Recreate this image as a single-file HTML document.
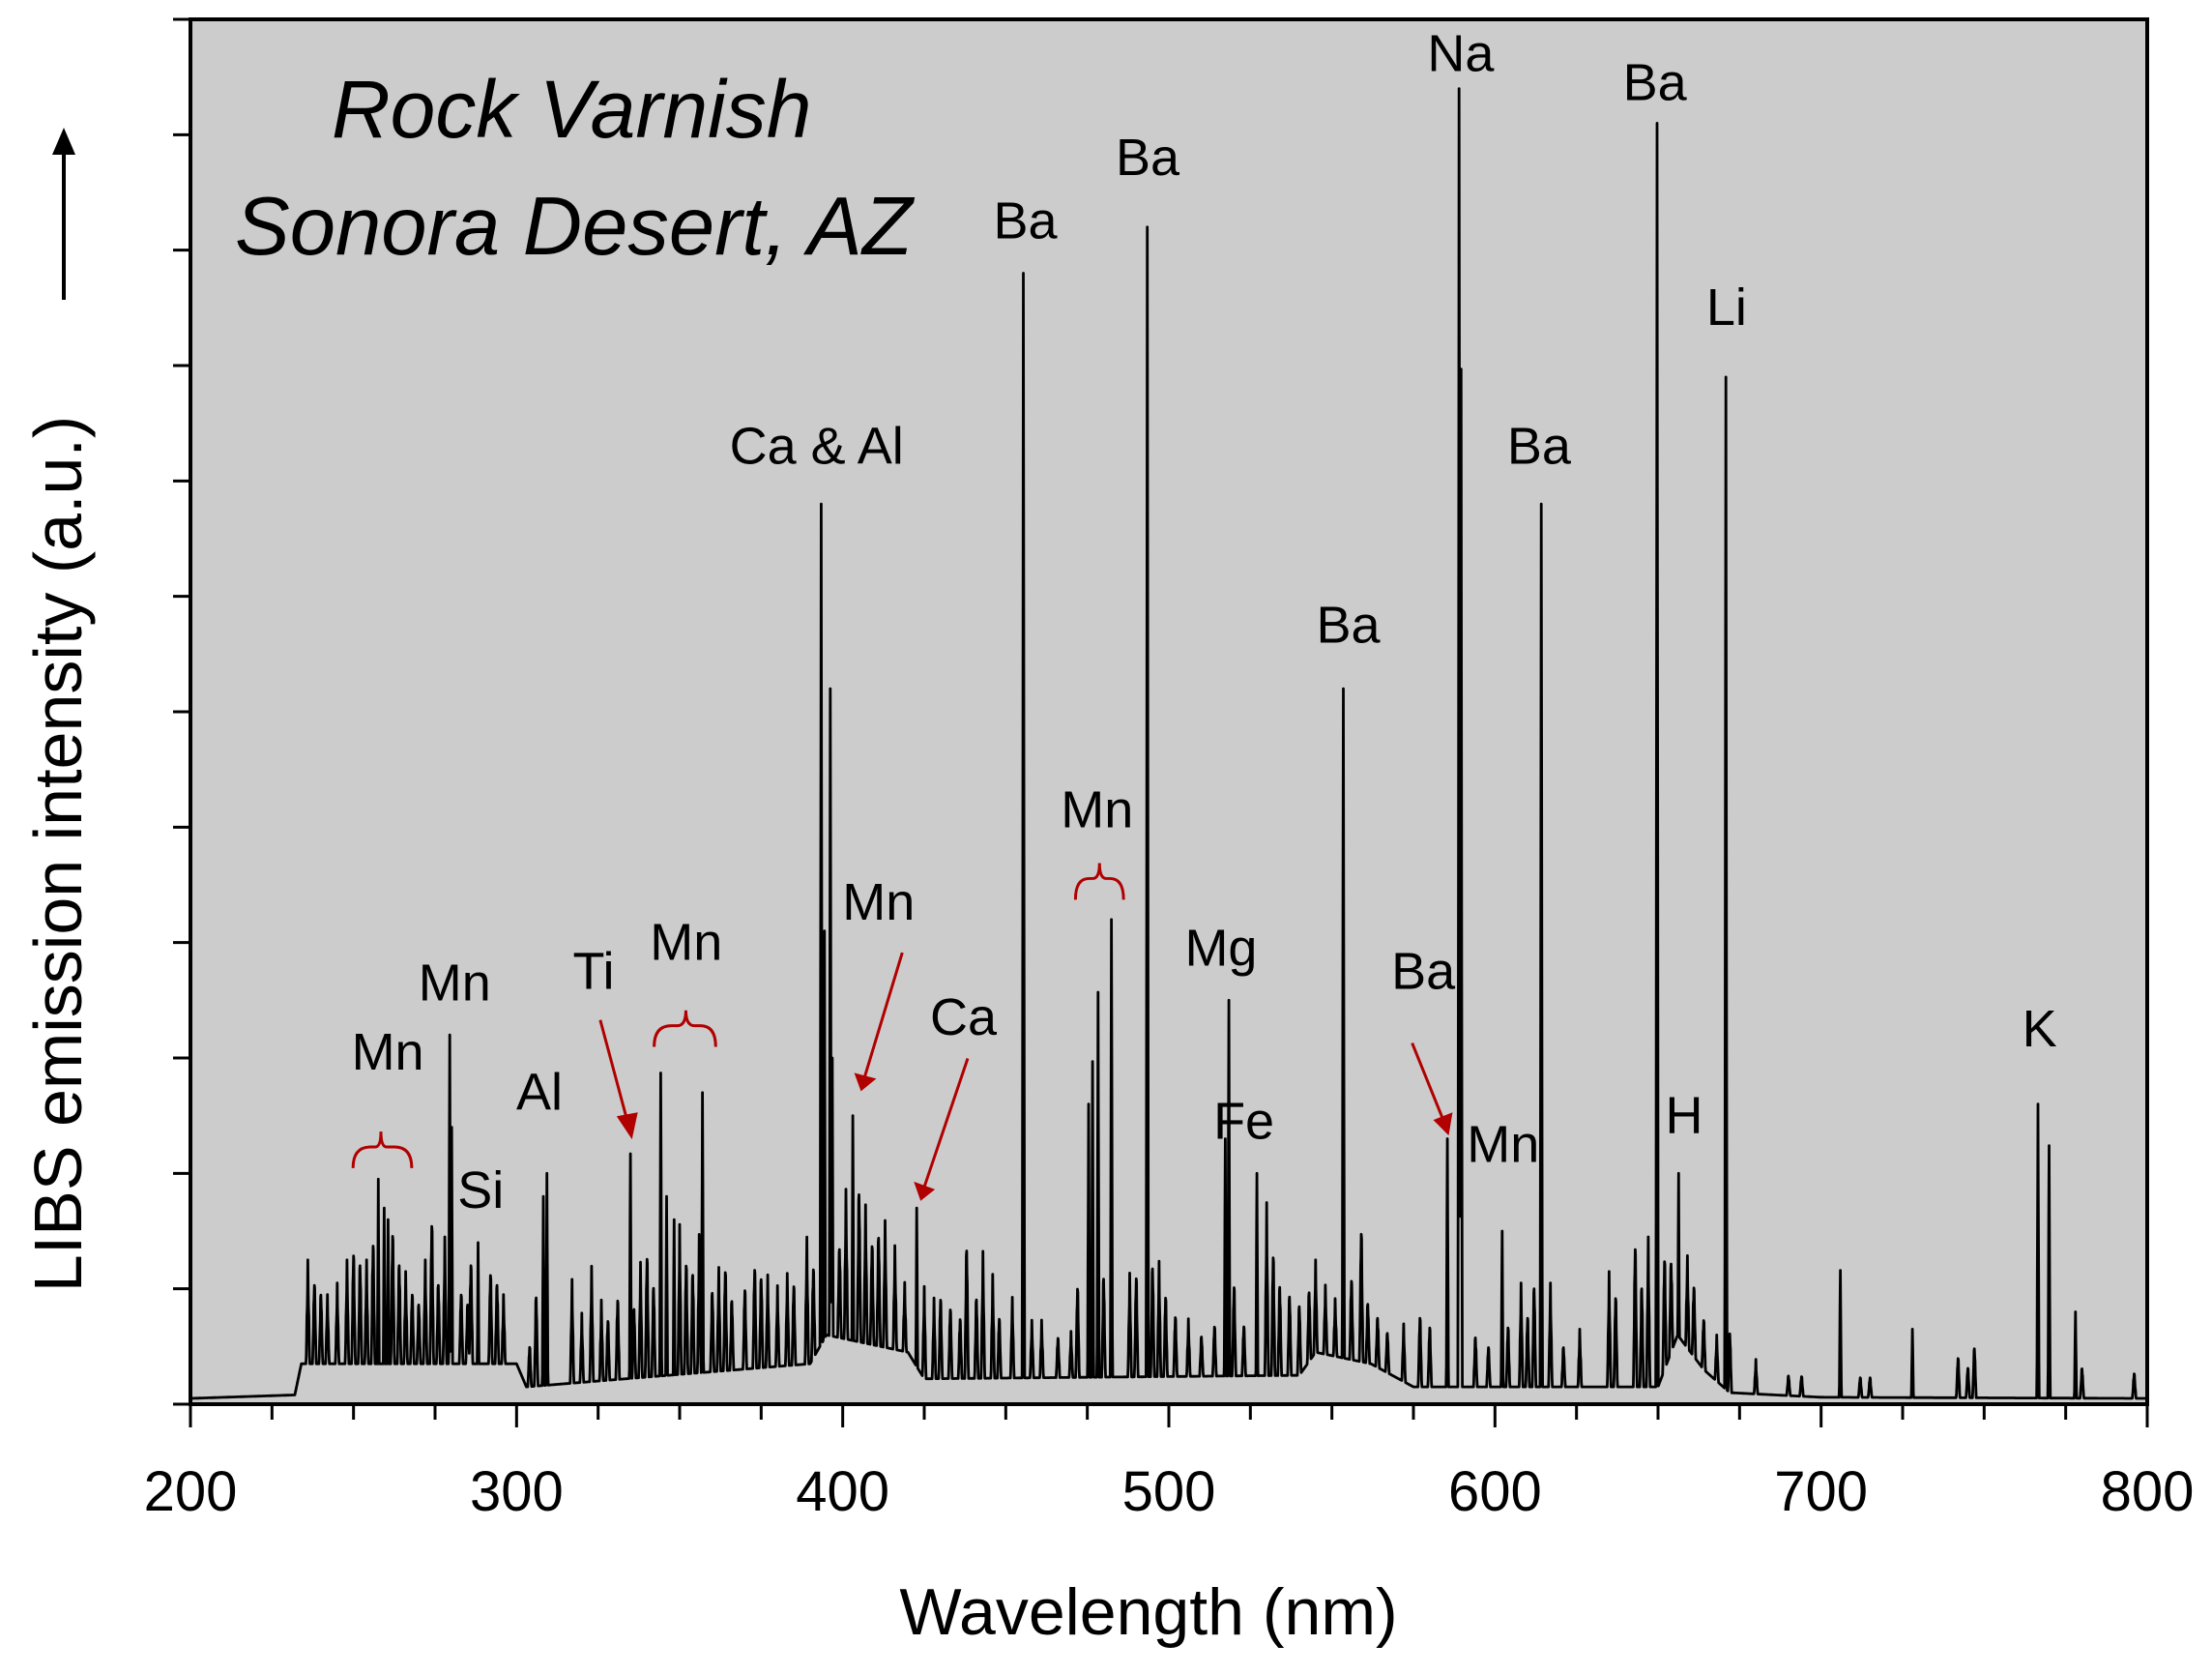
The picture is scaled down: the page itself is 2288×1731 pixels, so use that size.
<!DOCTYPE html>
<html><head><meta charset="utf-8"><style>
html,body{margin:0;padding:0;background:#fff}
svg{display:block}
text{font-family:"Liberation Sans",Arial,sans-serif;fill:#000}
</style></head><body>
<svg id="chart" xmlns="http://www.w3.org/2000/svg" width="2288" height="1731" viewBox="0 0 2288 1731">
<rect x="197" y="20" width="2024" height="1432" fill="#cccccc"/>
<g id="ticks"></g>
<path id="spec" fill="none" stroke="#000" stroke-width="2.8" stroke-linejoin="round"/>
<rect x="197" y="20" width="2024" height="1432" fill="none" stroke="#000" stroke-width="4"/>
<g id="xlabels"></g>
<text x="1188" y="1690" font-size="68" text-anchor="middle">Wavelength (nm)</text>
<text transform="translate(84,883) rotate(-90)" font-size="70" text-anchor="middle">LIBS emission intensity (a.u.)</text>
<g stroke="#000" stroke-width="4" fill="#000">
<line x1="66" y1="310" x2="66" y2="150"/><path d="M54,160 L66,132 L78,160 Z" stroke="none"/></g>
<text x="343" y="142" font-size="84" font-style="italic">Rock Varnish</text>
<text x="243" y="263" font-size="85" font-style="italic">Sonora Desert, AZ</text>
<g id="labels" font-size="54" text-anchor="middle"></g>
<g transform="scale(0.995)">
<g stroke="#b00000" stroke-width="3" fill="none">
<path d="M367,1214 Q367,1192 385,1192 L390,1192 Q396,1192 396,1176 Q396,1192 402,1192 L410,1192 Q428,1192 428,1214"/>
<path d="M680,1088 Q680,1066 698,1066 L704,1066 Q713,1066 713,1050 Q713,1066 722,1066 L728,1066 Q744,1066 744,1088"/>
<path d="M1118,935 Q1118,913 1132,913 L1136,913 Q1143,913 1143,897 Q1143,913 1150,913 L1154,913 Q1168,913 1168,935"/>
<line x1="624" y1="1060" x2="654" y2="1172"/>
<line x1="938" y1="990" x2="898" y2="1122"/>
<line x1="1006" y1="1100" x2="960" y2="1236"/>
<line x1="1468" y1="1084" x2="1502" y2="1168"/>
</g>
<g fill="#b00000">
<path d="M641,1160 L657,1184 L663,1156 Z"/><path d="M888,1115 L895,1134 L911,1121 Z"/><path d="M950,1228 L957,1248 L972,1236 Z"/><path d="M1490,1164 L1506,1180 L1510,1156 Z"/>
</g>
</g>
</svg>
<script>
const xTicks=[200,300,400,500,600,700,800];
const majorPeakNm=[257.6,259.4,260.6,279.5,280.1,288.2,308.2,309.3,334.9,344.2,346.0,348.3,357.0,393.4,394.4,396.2,396.8,403.1,422.7,455.4,475.4,476.6,478.3,482.4,493.4,517.3,518.4,527.0,553.5,585.4,589.0,589.6,602.2,614.2,649.7,656.3,670.8,705.9,728.0,766.5,769.9,778.0];
const majorPeakVal=[1.95,1.7,1.6,3.2,2.4,1.4,1.8,2.0,2.17,2.87,1.8,1.6,2.7,7.8,4.1,6.2,3.0,2.5,1.7,9.8,2.6,2.97,3.57,4.2,10.2,2.3,3.5,2.0,6.2,2.3,11.4,8.97,1.5,7.8,11.1,2.0,8.9,1.16,0.65,2.6,2.24,0.8];
const minorPeakNm=[236,238,240,242,245,248,250,252,254,256,262,264,266,268,270,272,274,276,278,283,285,286,292,294,296,304,306,317,320,323,326,328,331,336,338,340,342,350,352,354,356,360,362,364,366,370,373,375,377,380,383,385,389,391,399,401,405,407,409,411,413,416,419,425,428,430,433,436,438,441,443,446,448,452,458,461,466,470,472,480,488,490,495,497,499,502,506,510,514,520,523,530,532,534,537,540,543,545,548,551,556,559,561,564,567,572,577,580,594,598,604,608,610,612,617,621,626,635,637,643,645,647,652,654,659,661,664,668,672,680,690,694,712,715,742,745,747,780,796];
const minorPeakVal=[0.9,0.8,0.7,0.6,0.7,0.9,1.1,1.0,0.9,1.2,1.3,1.0,0.8,0.7,0.6,0.9,1.4,0.8,1.1,0.7,0.6,1.0,0.9,0.8,0.6,0.4,0.9,0.9,0.6,1.0,0.7,0.6,0.8,0.7,1.0,1.2,0.9,1.3,1.1,1.0,1.2,0.8,0.9,1.0,0.7,0.8,1.0,0.9,0.8,0.7,0.8,0.8,1.1,0.9,0.9,1.3,1.5,1.2,1.0,1.1,1.1,0.9,0.6,0.8,0.7,0.8,0.7,0.6,1.3,0.8,1.1,0.9,0.6,0.7,0.5,0.5,0.4,0.4,0.9,1.0,0.9,1.0,1.1,1.0,0.8,0.6,0.5,0.4,0.5,0.9,0.5,1.5,1.2,0.9,0.8,0.7,0.7,0.8,0.6,0.5,0.8,1.3,0.6,0.5,0.4,0.5,0.7,0.6,0.5,0.4,0.6,0.9,0.7,1.0,0.9,0.4,0.5,1.0,0.9,1.4,1.0,1.3,1.1,0.9,0.8,0.7,0.5,0.4,0.6,0.3,0.2,0.2,0.2,0.2,0.4,0.3,0.5,0.3,0.25];
const bgNm=[200,232,234,300,303,390,395,420,425,540,545,562,575,650,656,664,672,700,800];
const bgVal=[0.05,0.08,0.35,0.35,0.15,0.35,0.6,0.45,0.22,0.25,0.45,0.35,0.15,0.15,0.6,0.3,0.1,0.06,0.05];
const labelText=["Mn","Mn","Si","Al","Ti","Mn","Ca & Al","Mn","Ca","Ba","Mn","Ba","Mg","Fe","Ba","Ba","Na","Mn","Ba","Ba","Li","H","K"];
const labelNm=[260.5,281,289,307,290,352,392,411,437,456,478,493.5,516,523,555,578,589.5,602.5,613.5,649,671,658,767];
const labelVal=[2.9,3.5,1.7,2.55,3.6,3.85,8.15,4.2,3.2,10.1,5.0,10.65,3.8,2.3,6.6,3.6,11.55,2.1,8.15,11.3,9.35,2.35,3.1];
const L=197,R=2221,T=20,B=1452,YMAX=12;
const xs=v=>L+(v-200)/600*(R-L);
const ys=v=>B-v/YMAX*(B-T);
const NS="http://www.w3.org/2000/svg";
function bg(w){for(let i=0;i<bgNm.length-1;i++){if(w>=bgNm[i]&&w<=bgNm[i+1]){const t=(w-bgNm[i])/(bgNm[i+1]-bgNm[i]);return bgVal[i]+t*(bgVal[i+1]-bgVal[i]);}}return 0.05;}
function peakSum(w,nm,val,hw){let s=0;for(let i=0;i<nm.length;i++){const d=Math.abs(w-nm[i]);if(d<hw)s=Math.max(s,val[i]*(1-d/hw));}return s;}
let d="";
for(let k=0;k<=6000;k++){const w=200+k*0.1;
 const b=bg(w);
 const v=Math.max(b+peakSum(w,minorPeakNm,minorPeakVal,0.55)*((k%3===0)?1:0.85),peakSum(w,majorPeakNm,majorPeakVal,0.35));
 d+=(k?"L":"M")+xs(w).toFixed(1)+","+ys(v).toFixed(1);}
document.getElementById('spec').setAttribute('d',d);
const tg=document.getElementById('ticks'),xl=document.getElementById('xlabels');
for(let v=200;v<=800;v+=25){const ln=document.createElementNS(NS,'line');


const big=(v%100===0);ln.setAttribute('x1',xs(v));ln.setAttribute('x2',xs(v));ln.setAttribute('y1',B);ln.setAttribute('y2',B+(big?24:16));ln.setAttribute('stroke','#000');ln.setAttribute('stroke-width','3');tg.appendChild(ln);}
for(let v=0;v<=YMAX;v++){const ln=document.createElementNS(NS,'line');


ln.setAttribute('x1',L-18);ln.setAttribute('x2',L);ln.setAttribute('y1',ys(v));ln.setAttribute('y2',ys(v));ln.setAttribute('stroke','#000');ln.setAttribute('stroke-width','3');tg.appendChild(ln);}
xTicks.forEach(v=>{const t=document.createElementNS(NS,'text');


t.setAttribute('x',xs(v));t.setAttribute('y',1562);t.setAttribute('font-size','58');t.setAttribute('text-anchor','middle');t.textContent=v;xl.appendChild(t);});
const lg=document.getElementById('labels');
labelText.forEach((s,i)=>{const t=document.createElementNS(NS,'text');


let x=xs(labelNm[i]);if(s==="Ti")x=614;
t.setAttribute('x',x);t.setAttribute('y',ys(labelVal[i]));t.textContent=s;lg.appendChild(t);});
</script>
</body></html>
